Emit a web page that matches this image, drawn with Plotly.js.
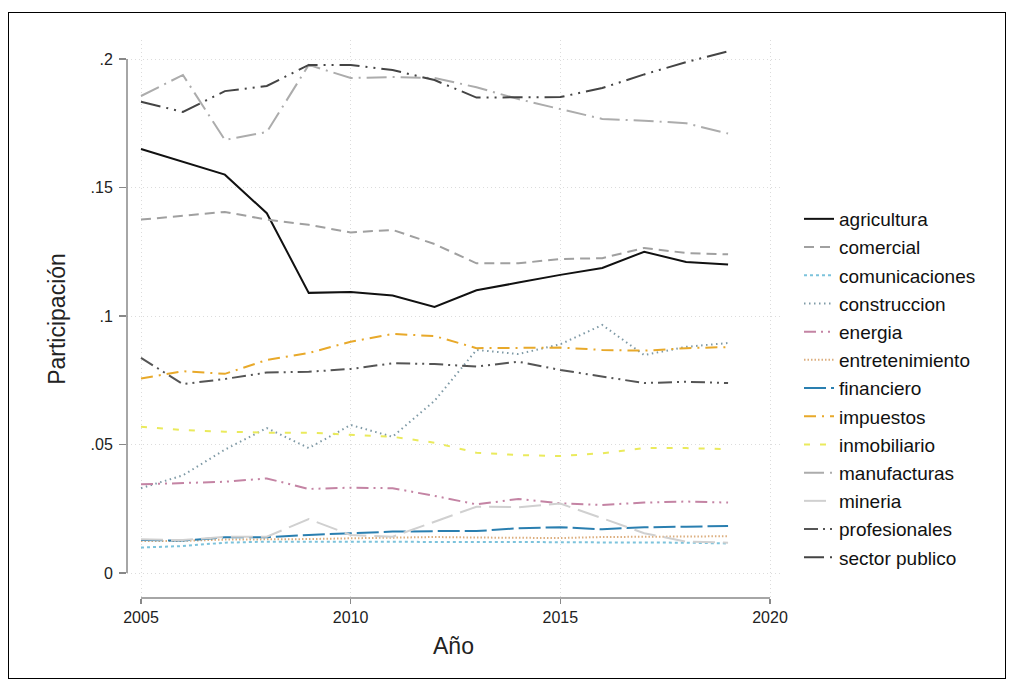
<!DOCTYPE html>
<html>
<head>
<meta charset="utf-8">
<script src="https://cdn.plot.ly/plotly-3.0.1.min.js"></script>
<style>
  html, body { margin: 0; padding: 0; background: #fff; }
  #wrap { position: relative; width: 1013px; height: 686px; }
  #chart { width: 1013px; height: 686px; }
  #frame { position: absolute; left: 8px; top: 12px; width: 996px; height: 665px; border: 1px solid #000; pointer-events: none; }
</style>
</head>
<body>
<div id="wrap">
  <div id="chart"></div>
  <div id="frame"></div>
</div>
<script>
const years = [2005,2006,2007,2008,2009,2010,2011,2012,2013,2014,2015,2016,2017,2018,2019];

const agricultura     = [0.165,0.160,0.155,0.140,0.109,0.1093,0.108,0.1035,0.110,0.113,0.116,0.1187,0.125,0.121,0.120];
const comercial       = [0.1375,0.139,0.1405,0.1375,0.1355,0.1325,0.1335,0.128,0.1205,0.1205,0.1222,0.1225,0.1265,0.1245,0.124];
const comunicaciones  = [0.0099,0.0105,0.0118,0.0122,0.0122,0.0122,0.0122,0.0121,0.012,0.012,0.012,0.0119,0.0119,0.0118,0.0115];
const construccion    = [0.033,0.038,0.048,0.0564,0.0486,0.0576,0.053,0.067,0.0868,0.0852,0.089,0.0965,0.0848,0.088,0.0895];
const energia         = [0.0345,0.0351,0.0355,0.0368,0.0327,0.0332,0.033,0.030,0.0267,0.0288,0.0271,0.0265,0.0274,0.0278,0.0274];
const entretenimiento = [0.0125,0.0125,0.013,0.013,0.0132,0.0135,0.0138,0.014,0.0138,0.0138,0.0136,0.014,0.0142,0.0142,0.0143];
const financiero      = [0.0128,0.0126,0.0139,0.0139,0.0148,0.0154,0.0161,0.0163,0.0163,0.0174,0.0178,0.017,0.0178,0.018,0.0183];
const impuestos       = [0.0757,0.0785,0.0775,0.0829,0.0856,0.090,0.093,0.0922,0.0875,0.0875,0.0877,0.0868,0.0865,0.0875,0.0879];
const inmobiliario    = [0.0569,0.0556,0.055,0.0546,0.0546,0.0537,0.053,0.0507,0.0468,0.0459,0.0455,0.0466,0.0486,0.0486,0.0482];
const manufacturas    = [0.1856,0.1938,0.1685,0.1716,0.1977,0.1926,0.193,0.1926,0.189,0.1844,0.1805,0.1767,0.176,0.175,0.171];
const mineria         = [0.0131,0.0128,0.0141,0.0141,0.021,0.0148,0.0141,0.020,0.0258,0.0256,0.027,0.0213,0.0155,0.0122,0.0118];
const profesionales   = [0.0837,0.0735,0.0755,0.078,0.0783,0.0794,0.0816,0.0813,0.0803,0.0822,0.079,0.0764,0.0739,0.0744,0.0739];
const sectorPublico   = [0.1834,0.1794,0.1875,0.1895,0.1977,0.1977,0.1957,0.1918,0.185,0.185,0.1852,0.1887,0.194,0.1988,0.203];

const yTickVals = [0, 0.05, 0.1, 0.15, 0.2];
const yTickText = ['0', '.05', '.1', '.15', '.2'];
const xTickVals = [2005, 2010, 2015, 2020];

const series = [
  {name: 'agricultura',     y: agricultura,     color: '#111111', dash: 'solid', width: 2},
  {name: 'comercial',       y: comercial,       color: '#a0a0a0', dash: '10px,6px', width: 2},
  {name: 'comunicaciones',  y: comunicaciones,  color: '#7cc3dc', dash: '3px,3px', width: 2},
  {name: 'construccion',    y: construccion,    color: '#7f9aa6', dash: '1.5px,3.5px', width: 2},
  {name: 'energia',         y: energia,         color: '#c484a4', dash: '12px,5px,2px,5px,2px,5px', width: 2},
  {name: 'entretenimiento', y: entretenimiento, color: '#dcae7e', dash: '1.5px,2px', width: 2},
  {name: 'financiero',      y: financiero,      color: '#2a7fb0', dash: '22px,5px', width: 2},
  {name: 'impuestos',       y: impuestos,       color: '#e8a92a', dash: '12px,6px,2px,6px', width: 2},
  {name: 'inmobiliario',    y: inmobiliario,    color: '#eaea5c', dash: '6px,10px', width: 2},
  {name: 'manufacturas',    y: manufacturas,    color: '#acacac', dash: '20px,6px,2px,6px', width: 2},
  {name: 'mineria',         y: mineria,         color: '#d0d0d0', dash: '22px,8px', width: 2},
  {name: 'profesionales',   y: profesionales,   color: '#555555', dash: '14px,5px,2px,5px,2px,5px', width: 2},
  {name: 'sector publico',  y: sectorPublico,   color: '#444444', dash: '20px,6px,2px,6px,2px,6px', width: 2}
];

const traces = series.map((s, i) => ({
  type: 'scatter',
  mode: 'lines',
  x: years,
  y: s.y,
  name: s.name,
  legendgroup: 'g' + i,
  line: {color: s.color, dash: s.dash, width: s.width}
}));

const pxPerYear = (770 - 141) / 15;
const xLeft = 2005 - (141 - 127) / pxPerYear;
const xRight = 2020 + (780 - 770) / pxPerYear;
const pxPerUnit = (573 - 59) / 0.2;
const yBottom = 0 - (598 - 573) / pxPerUnit;
const yTop = 0.2 + (59 - 40) / pxPerUnit;

const layout = {
  width: 1013,
  height: 686,
  margin: {l: 127, r: 233, t: 40, b: 88},
  paper_bgcolor: '#ffffff',
  plot_bgcolor: '#ffffff',
  font: {family: 'Liberation Sans, Arial, sans-serif', color: '#222', size: 16},
  showlegend: true,
  legend: {
    xref: 'container', yref: 'container',
    x: 799 / 1013, y: 1 - 200 / 686,
    xanchor: 'left', yanchor: 'top',
    font: {size: 19, color: '#111'},
    tracegroupgap: 0.5,
    maxheight: 620,
    bgcolor: 'rgba(0,0,0,0)'
  },
  xaxis: {
    range: [xLeft, xRight],
    tickvals: xTickVals,
    ticks: 'outside', ticklen: 5, tickcolor: '#888', tickwidth: 1.3,
    showgrid: true, gridcolor: '#dcdcdc', griddash: '1px,3px', gridwidth: 1,
    zeroline: false, showline: false,
    tickfont: {size: 16, color: '#222'},
    title: {text: 'Año', font: {size: 23, color: '#222'}, standoff: 12}
  },
  yaxis: {
    range: [yBottom, yTop],
    tickvals: yTickVals, ticktext: yTickText,
    ticks: 'outside', ticklen: 7, tickcolor: '#888', tickwidth: 1.3,
    ticklabelstandoff: 3,
    showgrid: true, gridcolor: '#dcdcdc', griddash: '1px,3px', gridwidth: 1,
    zeroline: false, showline: false,
    tickfont: {size: 16, color: '#222'},
    title: {text: 'Participación', font: {size: 23, color: '#222'}, standoff: 18}
  },
  shapes: [
    {type: 'line', xref: 'paper', yref: 'y', x0: 0, x1: 0, y0: 0, y1: 0.2, line: {color: '#888', width: 1.5}},
    {type: 'line', xref: 'x', yref: 'paper', x0: 2005, x1: 2020, y0: 0, y1: 0, line: {color: '#888', width: 1.5}}
  ]
};

Plotly.newPlot('chart', traces, layout, {staticPlot: true, displayModeBar: false});
</script>
</body>
</html>
